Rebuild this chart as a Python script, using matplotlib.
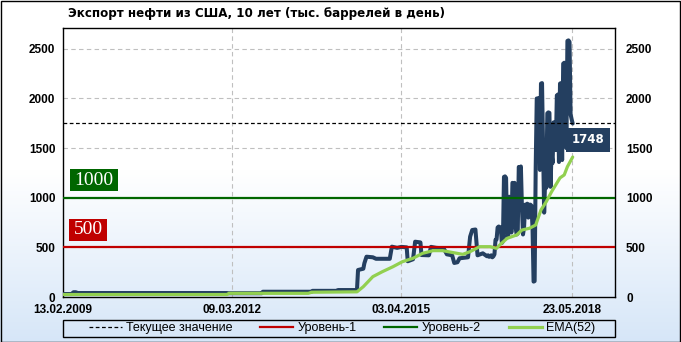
import numpy as np
import matplotlib
matplotlib.use("Agg")
import matplotlib.pyplot as plt
from matplotlib.patches import Rectangle
from matplotlib.lines import Line2D

plt.rcParams['font.family'] = ['Liberation Sans', 'DejaVu Sans']

# ---------------- data ----------------
title = "Экспорт нефти из США, 10 лет (тыс. баррелей в день)"
tick_weeks = [0, 160, 320, 481]
tick_labels = ["13.02.2009", "09.03.2012", "03.04.2015", "23.05.2018"]
y_ticks = [0, 500, 1000, 1500, 2000, 2500]

export_week = [0, 8, 10, 12, 14, 155, 156, 188, 189, 235, 236, 259, 260, 278,
               279, 284, 285, 287, 293, 296, 309, 311, 316, 320, 325, 326, 331,
               333, 338, 339, 346, 348, 353, 360, 363, 368, 370, 373, 375, 383,
               385, 387, 390, 392, 397, 401, 402, 403,
               404, 405, 406, 407, 408, 409, 410, 411, 412, 413, 414, 415, 416,
               417, 418, 419, 420, 421, 422, 423, 424, 425, 426, 427, 428, 429,
               430, 431, 432, 433, 434, 435, 436, 437, 438, 439, 440, 441, 442,
               443, 444, 445, 446, 447, 448, 449, 450, 451, 452, 453, 454, 455,
               456, 457, 458, 459, 460, 461, 462, 463, 464, 465, 466, 467, 468,
               469, 470, 471, 472, 473, 474, 475, 476, 477, 478, 479, 480, 481,
               482]
export_value = [30, 30, 48, 48, 40, 40, 38, 38, 53, 53, 62, 62, 70, 70,
                272, 285, 340, 406, 400, 385, 385, 507, 495, 505, 500, 360, 380,
                557, 550, 423, 420, 505, 495, 490, 430, 420, 343, 350, 390, 400,
                608, 675, 680, 420, 440, 410, 420, 405,
                410, 420, 400, 410, 430, 575, 580, 700, 710, 705, 700, 544, 560,
                1210, 1215, 1200, 600, 620, 1010, 1000, 650, 1150, 1140, 1150, 700, 630,
                640, 1310, 1300, 1315, 900, 630, 700, 930, 920, 940, 800, 930, 930,
                920, 700, 155, 160, 1300, 2000, 1990, 2005, 1280, 2150, 2155, 1500, 850,
                1200, 1100, 1850, 1860, 1855, 1110, 1450, 1350, 1760, 1750, 1480, 2030, 2040,
                1360, 2150, 2155, 1380, 2350, 2360, 2355, 1500, 2580, 2585, 2570, 1840, 1790,
                1748]

ema_week = [0, 155, 157, 232, 235, 278, 284, 293, 302, 312, 321, 331, 340, 350,
            359, 369, 378, 385, 394, 404, 410, 413, 420, 429, 434, 441, 447, 452,
            457, 462, 466, 470, 474, 477, 482]
ema_value = [25, 25, 37, 37, 48, 52, 104, 205, 255, 305, 356, 390, 440, 467,
             467, 447, 430, 457, 507, 507, 490, 524, 591, 625, 675, 692, 725, 877,
             960, 1060, 1130, 1200, 1230, 1313, 1410]

current_value = 1748
level1 = 500
level2 = 1000

legend_labels = ["Текущее значение", "Уровень-1", "Уровень-2", "EMA(52)"]

# ---------------- colours ----------------
NAVY = "#243F60"
EMA_C = "#92D050"
RED = "#C00000"
GREEN = "#006600"

W, H = 681, 342
fig = plt.figure(figsize=(W / 100, H / 100), dpi=100)

# background gradient
bg = fig.add_axes([0, 0, 1, 1], zorder=-10)
yy = np.arange(H)
t = np.clip((yy - 170) / 172.0, 0, 1)[:, None]
top = np.array([1.0, 1.0, 1.0])
bot = np.array([214, 230, 248]) / 255.0
grad = (top * (1 - t) + bot * t)[:, None, :].repeat(2, axis=1)
bg.imshow(grad, aspect='auto', extent=[0, 1, 0, 1], interpolation='bilinear')
bg.axis('off')
fig.add_artist(Rectangle((0.5 / W, 0.5 / H), 1 - 1.5 / W, 1 - 1.5 / H,
                         transform=fig.transFigure, fill=False,
                         edgecolor='black', linewidth=1.0))

ax = fig.add_axes([63 / W, 1 - 297 / H, 552 / W, 269 / H])
ax.set_facecolor('none')
ax.set_xlim(0, 522)
ax.set_ylim(0, 2710)

# grid
for yv in y_ticks[1:]:
    ax.axhline(yv, color='#BFBFBF', lw=0.8, ls=(0, (4, 3)), zorder=1)
for xv in tick_weeks[1:]:
    ax.axvline(xv, color='#BFBFBF', lw=0.8, ls=(0, (4, 3)), zorder=1)

ax.plot(export_week, export_value, color=NAVY, lw=2.9, zorder=3,
        solid_joinstyle='round', solid_capstyle='round')
ax.axhline(level1, color=RED, lw=1.6, zorder=4)
ax.axhline(level2, color=GREEN, lw=1.6, zorder=4)
ax.axhline(current_value, color='black', lw=0.9, ls=(0, (3, 2)), zorder=4)
ax.plot(ema_week, ema_value, color=EMA_C, lw=2.3, zorder=5,
        solid_joinstyle='round', solid_capstyle='round')

# level label boxes
def level_box(level, text, color, x0, x1):
    ax.add_patch(Rectangle((x0, level + 65), x1 - x0, 225, facecolor=color,
                           edgecolor='none', zorder=6))
    ax.text((x0 + x1) / 2, level + 65 + 110, text, color='white',
            family='Liberation Serif', fontsize=14, ha='center', va='center',
            zorder=7)

level_box(level2, str(level2), GREEN, 6.5, 52)
level_box(level1, str(level1), RED, 5.7, 41.6)

# current value label
ax.text(496.5, current_value - 165, str(current_value), color='white',
        family='DejaVu Sans', fontweight='bold', fontsize=8.5, ha='center',
        va='center', zorder=8,
        bbox=dict(boxstyle='square,pad=0.45', facecolor=NAVY, edgecolor='none'))

ax.set_xticks(tick_weeks)
ax.set_xticklabels(tick_labels, fontweight='bold', fontsize=8.5)
ax.set_yticks(y_ticks)
ax.set_yticklabels([str(v) for v in y_ticks], fontweight='bold', fontsize=8.5)
ax.tick_params(axis='x', length=0, pad=5)
ax.tick_params(axis='y', length=0, pad=5.5)
for s in ax.spines.values():
    s.set_color('black')
    s.set_linewidth(1.0)

ax2 = ax.twinx()
ax2.set_ylim(ax.get_ylim())
ax2.set_yticks(y_ticks)
ax2.set_yticklabels([str(v) for v in y_ticks], fontweight='bold', fontsize=8.5)
ax2.tick_params(axis='y', length=0, pad=8)
for s in ax2.spines.values():
    s.set_visible(False)

fig.text(68 / W, 1 - 14 / H, title, family='DejaVu Sans', fontweight='bold',
         fontsize=8.6, ha='left', va='center')

# legend: frame spans the plot width, entries centred inside it
fig.add_artist(Rectangle((63 / W, 1 - 337 / H), 552 / W, 17 / H,
                         transform=fig.transFigure, fill=False,
                         edgecolor='black', linewidth=1.0))
handles = [Line2D([], [], color='black', lw=0.9, ls=(0, (3, 2))),
           Line2D([], [], color=RED, lw=1.6),
           Line2D([], [], color=GREEN, lw=1.6),
           Line2D([], [], color=EMA_C, lw=2.3)]
leg = fig.legend(handles, legend_labels, loc='center',
                 bbox_to_anchor=(339 / W + 0.004, 1 - 328.5 / H),
                 ncol=4, frameon=False, fontsize=9,
                 handlelength=2.64, borderpad=0.0, borderaxespad=0,
                 handletextpad=0.32, columnspacing=2.24)

fig.savefig("out.png", dpi=100)
